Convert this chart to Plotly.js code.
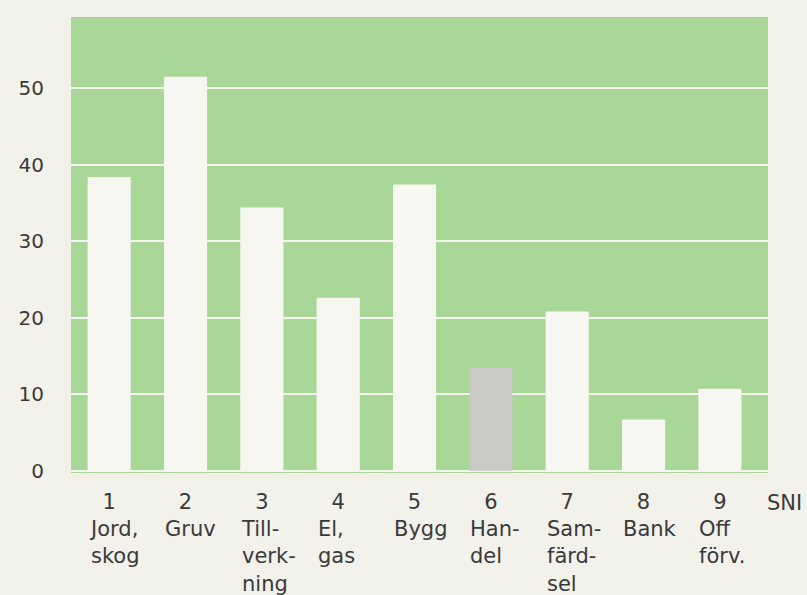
<!DOCTYPE html>
<html><head><meta charset="utf-8">
<script src="https://cdn.plot.ly/plotly-3.0.1.min.js"></script>
<style>html,body{margin:0;padding:0;background:#f2f1ea;}</style>
</head><body>
<div id="chart" style="width:807px;height:595px;"></div>
<script>
const codes = ["1","2","3","4","5","6","7","8","9"];
const names = ["Jord,<br>skog","Gruv","Till-<br>verk-<br>ning","El,<br>gas","Bygg","Han-<br>del","Sam-<br>färd-<br>sel","Bank","Off<br>förv."];
const values = [38.4, 51.5, 34.4, 22.6, 37.4, 13.5, 20.8, 6.7, 10.7];
const highlight = "6";
const yTicks = [0, 10, 20, 30, 40, 50];

const FONT = "DejaVu Sans, Verdana, sans-serif";
const TXT = "#3a3a3a";
const xs = codes.map((c, i) => i);
const colors = codes.map(c => c === highlight ? "#c9c9c5" : "#f7f7f2");
const barW = 0.565;

const annotations = names.map((n, i) => ({
  xref: "x", yref: "paper", x: i - barW / 2, y: -0.095,
  xanchor: "left", yanchor: "top", align: "left",
  text: n, showarrow: false, borderpad: 0,
  font: {family: FONT, size: 21, color: TXT}
}));
annotations.push({
  xref: "paper", yref: "paper", x: 0.997, y: -0.037, xanchor: "left", yanchor: "top",
  text: "SNI", showarrow: false, borderpad: 0,
  font: {family: FONT, size: 21, color: TXT}
});

Plotly.newPlot("chart", [{
  type: "bar", x: xs, y: values, width: barW,
  marker: {color: colors, line: {width: 0}},
  hoverinfo: "skip"
}], {
  width: 807, height: 595,
  margin: {l: 71, r: 39, t: 17, b: 122},
  paper_bgcolor: "#f2f1ea", plot_bgcolor: "#a8d797",
  showlegend: false,
  xaxis: {
    range: [-0.5, 8.63], tickmode: "array", tickvals: xs, ticktext: codes,
    showgrid: false, zeroline: false, showline: false, ticks: "",
    ticklabelstandoff: 14,
    tickfont: {family: FONT, size: 21, color: TXT}
  },
  yaxis: {
    range: [-0.3, 59.3], tickmode: "array", tickvals: yTicks,
    showgrid: true, gridcolor: "#f4f6ee", gridwidth: 2,
    zeroline: false, showline: false, ticks: "",
    ticklabelstandoff: 26,
    tickfont: {family: FONT, size: 20, color: TXT}
  },
  annotations: annotations
}, {staticPlot: true});
</script>
</body></html>
